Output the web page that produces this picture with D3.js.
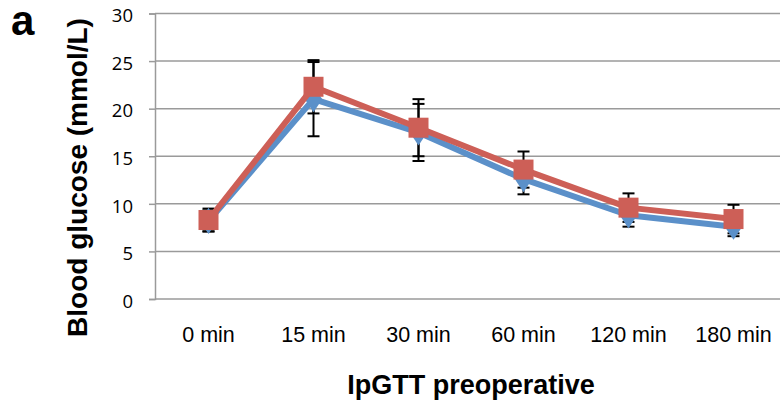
<!DOCTYPE html>
<html>
<head>
<meta charset="utf-8">
<script src="https://cdn.jsdelivr.net/npm/d3@7"></script>
<style>
  body { margin: 0; background: #fff; }
  svg { display: block; }
</style>
</head>
<body>
<div id="chart"></div>
<script>
// values
const categories = ["0 min", "15 min", "30 min", "60 min", "120 min", "180 min"];
const blueValues = [8.2, 21.0, 17.5, 12.6, 8.8, 7.6];
const blueErrors = [1.1, 3.9, 3.0, 1.6, 1.2, 1.0];
const redValues = [8.3, 22.3, 18.0, 13.6, 9.6, 8.4];
const redErrors = [1.2, 2.8, 3.0, 1.9, 1.5, 1.5];
const yTicks = [0, 5, 10, 15, 20, 25, 30];

const width = 780, height = 407;
const plotLeft = 155, plotRight = 786, plotTop = 13.5, plotBottom = 299;

const svg = d3.select("#chart").append("svg")
    .attr("width", width)
    .attr("height", height);

const x = d3.scalePoint().domain(categories).range([plotLeft + 1, plotRight]).padding(0.5);
const y = d3.scaleLinear().domain([0, 30]).range([plotBottom, plotTop]);

// gridlines
svg.append("g")
    .selectAll("line")
    .data(yTicks)
    .join("line")
    .attr("x1", plotLeft)
    .attr("x2", width)
    .attr("y1", d => y(d))
    .attr("y2", d => y(d))
    .attr("stroke", "#9a9a9a")
    .attr("stroke-width", 1.5);

// y axis
const yAxis = svg.append("g")
    .attr("transform", `translate(${plotLeft},0)`)
    .call(d3.axisLeft(y).tickValues(yTicks).tickSize(6).tickPadding(16));
yAxis.select(".domain").attr("stroke", "#9a9a9a").attr("stroke-width", 1.5);
yAxis.selectAll(".tick line").attr("stroke", "#9a9a9a").attr("stroke-width", 1.5);
yAxis.selectAll("text")
    .attr("font-family", "'Open Sans', 'Noto Sans', sans-serif")
    .attr("font-size", 18.5)
    .attr("dy", "0.45em")
    .attr("fill", "#000");

// x labels
svg.append("g")
    .selectAll("text")
    .data(categories)
    .join("text")
    .attr("x", d => x(d))
    .attr("y", 342)
    .attr("text-anchor", "middle")
    .attr("font-family", "'Liberation Sans', Arial, sans-serif")
    .attr("font-size", 21.5)
    .text(d => d);

// error bars (behind the series)
function errorBars(values, errors) {
    const g = svg.append("g").attr("stroke", "#000").attr("stroke-width", 2);
    categories.forEach((c, i) => {
        const cx = x(c);
        const lo = y(values[i] - errors[i]), hi = y(values[i] + errors[i]);
        g.append("line").attr("x1", cx).attr("x2", cx).attr("y1", lo).attr("y2", hi);
        g.append("line").attr("x1", cx - 6).attr("x2", cx + 6).attr("y1", lo).attr("y2", lo);
        g.append("line").attr("x1", cx - 6).attr("x2", cx + 6).attr("y1", hi).attr("y2", hi);
    });
}
errorBars(blueValues, blueErrors);
errorBars(redValues, redErrors);

const line = d3.line()
    .x((d, i) => x(categories[i]))
    .y(d => y(d));

// blue series with diamonds
svg.append("path")
    .datum(blueValues)
    .attr("d", line)
    .attr("fill", "none")
    .attr("stroke", "#5b90c9")
    .attr("stroke-width", 6)
    .attr("stroke-linejoin", "round");
svg.append("g")
    .selectAll("path")
    .data(blueValues)
    .join("path")
    .attr("d", d3.symbol(d3.symbolDiamond, 200))
    .attr("transform", (d, i) => `translate(${x(categories[i])},${y(d)}) scale(1.15,1)`)
    .attr("fill", "#5b90c9");

// red series with squares
svg.append("path")
    .datum(redValues)
    .attr("d", line)
    .attr("fill", "none")
    .attr("stroke", "#cd5f57")
    .attr("stroke-width", 6)
    .attr("stroke-linejoin", "round");
svg.append("g")
    .selectAll("rect")
    .data(redValues)
    .join("rect")
    .attr("x", (d, i) => x(categories[i]) - 10)
    .attr("y", d => y(d) - 10)
    .attr("width", 20)
    .attr("height", 20)
    .attr("fill", "#cd5f57");

// titles
svg.append("text")
    .attr("transform", "translate(87,177.5) rotate(-90)")
    .attr("text-anchor", "middle")
    .attr("font-family", "'Liberation Sans', Arial, sans-serif")
    .attr("font-weight", "bold")
    .attr("font-size", 28)
    .text("Blood glucose (mmol/L)");

svg.append("text")
    .attr("x", 471)
    .attr("y", 394)
    .attr("text-anchor", "middle")
    .attr("font-family", "'Liberation Sans', Arial, sans-serif")
    .attr("font-weight", "bold")
    .attr("font-size", 27)
    .text("IpGTT preoperative");

svg.append("text")
    .attr("x", 11)
    .attr("y", 35)
    .attr("font-family", "'Liberation Sans', Arial, sans-serif")
    .attr("font-weight", "bold")
    .attr("font-size", 42)
    .text("a");
</script>
</body>
</html>
